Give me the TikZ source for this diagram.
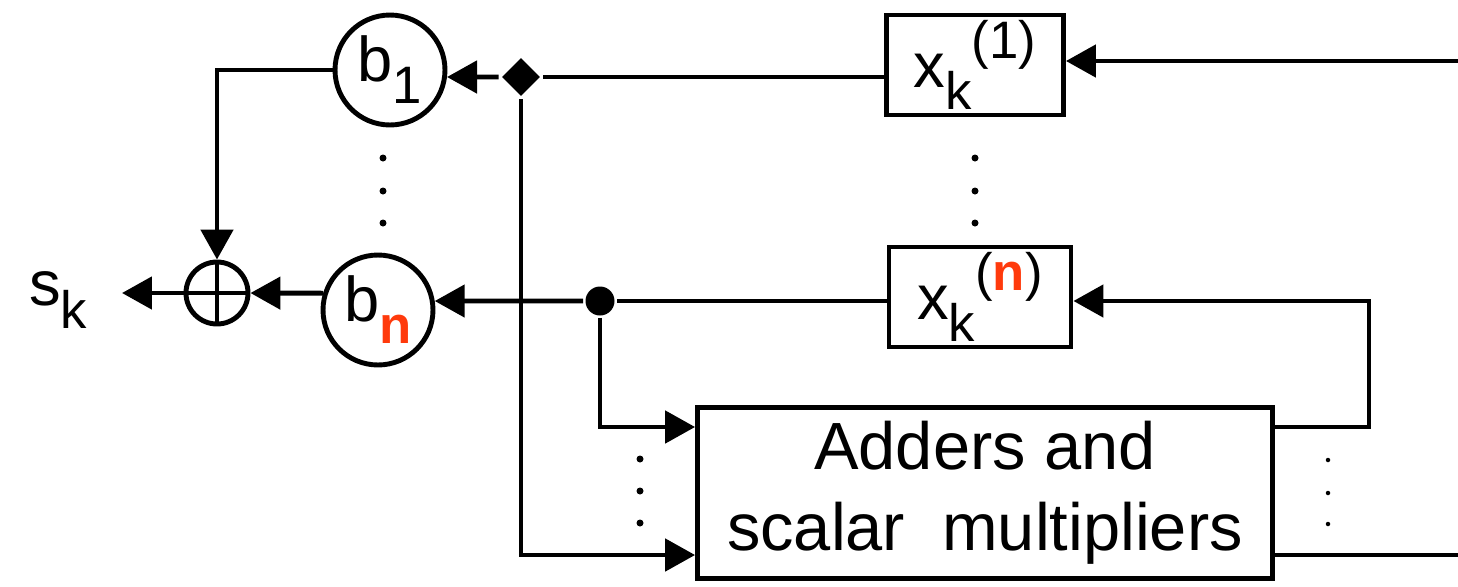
\documentclass[tikz,border=0pt]{standalone}
\usepackage{fontspec}
\setmainfont{Liberation Sans}
\usepackage{tikz}
\usetikzlibrary{arrows.meta,positioning,shapes.geometric}
\definecolor{nred}{HTML}{FF3A0C}
\newcommand{\subsz}{\fontsize{30}{30}\selectfont}
\newcommand{\redn}{\textcolor{nred}{\textbf{n}}}
\tikzset{
  lbl/.style={font=\fontsize{36}{40}\selectfont},
  blk/.style={draw,inner sep=0pt,lbl},
  gain/.style={draw,circle,minimum size=2.2cm,inner sep=0pt,lbl},
  dotmark/.style={fill=black}
}

\begin{document}
\begin{tikzpicture}[x=0.02cm,y=-0.02cm,line width=2.8pt,>={Triangle[length=0.6cm,width=0.64cm]}]
  \useasboundingbox (0,0) rectangle (1458,586);
  \node[gain] (b1) at (390,70) {b\raisebox{-0.35em}{\subsz 1}};
  \node[gain] (bn) at (378,310) {b\raisebox{-0.35em}{\subsz\redn}};
  \node[draw,circle,minimum size=1.24cm,inner sep=0pt] (sum) at (217,293) {};
  \draw (sum.north) -- (sum.south) (sum.west) -- (sum.east);
  \node[lbl] (sk) at (58,300) {s\raisebox{-0.35em}{\subsz k}};
  \coordinate (out) at (122,293);
  \node[blk,minimum width=3.54cm,minimum height=2cm] (x1) at (975,65) {x\raisebox{-0.35em}{\subsz k}\raisebox{0.45em}{\subsz(1)}};
  \node[blk,minimum width=3.64cm,minimum height=2cm] (xn) at (980,297) {x\raisebox{-0.35em}{\subsz k}\raisebox{0.45em}{\subsz(\redn)}};
  \node[blk,minimum width=11.5cm,minimum height=3.42cm,align=center,font=\fontsize{38}{46}\selectfont] (adder) at (985,493) {Adders and\\scalar~ multipliers};
  \node[diamond,fill,inner sep=0pt,minimum size=0.8cm] (j1) at (521,77) {};
  \node[circle,fill,inner sep=0pt,minimum size=0.58cm] (j2) at (600,301) {};
  \coordinate (in1) at (1458,61);
  \coordinate (in2) at (1458,555);
  \coordinate (r1) at (1369,301);
  \draw[->] (in1) -- (in1 -| x1.east);
  \draw (x1.west |- j1) -- (j1);
  \draw[->] (j1) -- (b1.-7);
  \draw[->] (j1) |- (adder.west |- 0,555);
  \draw (xn.west |- j2) -- (j2);
  \draw[->] (j2) -- (bn.9);
  \draw[->] (j2) |- (adder.west |- 0,427);
  \draw[->] (adder.east |- 0,427) -| (r1) -- (r1 -| xn.east);
  \draw (adder.east |- in2) -- (in2);
  \draw[->] (b1.west) -| (sum.north);
  \draw[->] (bn.163) -- (sum.east);
  \draw[->] (sum.west) -- (out);
  \foreach \y in {158,191,223} {\fill[dotmark] (383,\y) circle (0.07cm); \fill[dotmark] (975,\y) circle (0.07cm);}
  \foreach \y in {459,491,523} \fill[dotmark] (640,\y) circle (0.07cm);
  \foreach \y in {460,493,524} \fill[dotmark] (1328,\y) circle (0.045cm);
\end{tikzpicture}
\end{document}
